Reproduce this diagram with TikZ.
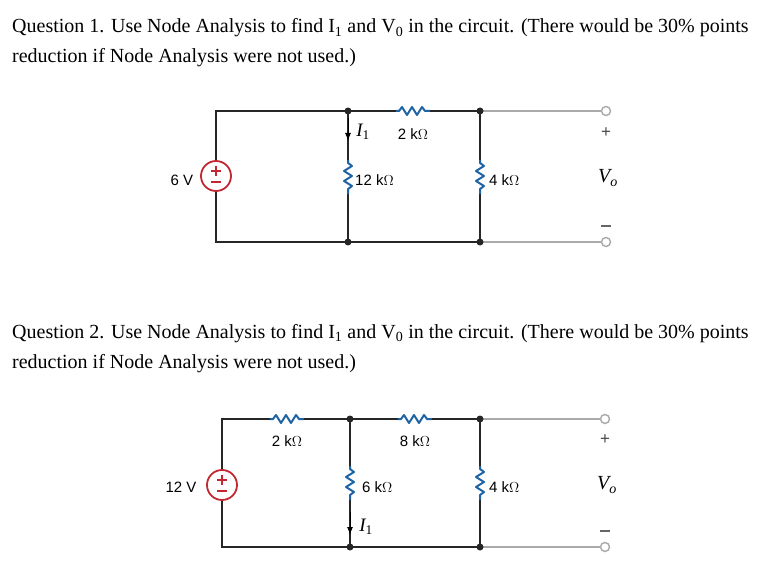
\documentclass[tikz,border=0pt]{standalone}
\usepackage{fontspec}
\setmainfont{Liberation Serif}
\newfontfamily\cirf{Liberation Sans}
\usetikzlibrary{arrows.meta,calc}
\definecolor{resb}{RGB}{30,100,165}
\definecolor{srcr}{RGB}{195,40,50}
\definecolor{gw}{RGB}{170,170,170}
\tikzset{x=1pt,y=-1pt,
 wire/.style={line width=2pt,black!85},
 gwire/.style={line width=1.8pt,gw},
 dot/.style={circle,fill=black!85,inner sep=0,minimum size=7pt},
 term/.style={circle,draw=gw,fill=white,line width=1.4pt,inner sep=0,minimum size=9pt},
 lab/.style={font=\cirf\fontsize{15}{15}\selectfont,inner sep=0},
 vo/.style={font=\fontsize{20}{20}\selectfont\itshape,inner sep=0},
 pm/.style={font=\cirf\fontsize{17}{17}\selectfont,black!70,inner sep=0},
 mline/.style={line width=1.2pt,black!60},
 src/.style={circle,draw=srcr,line width=1.8pt,fill=white,minimum size=30pt,inner sep=0},
 q/.style={anchor=base west,font=\fontsize{20}{20}\selectfont,inner sep=0},
 hres/.pic={\draw[resb,line width=2pt,line join=round] (-17,0)--(-14,0)--(-11,-4)--(-6,4)--(-1,-4)--(4,4)--(9,-4)--(12,0)--(17,0);},
 vres/.pic={\draw[resb,line width=2pt,line join=round] (0,-17)--(0,-14)--(4,-11)--(-4,-6)--(4,-1)--(-4,4)--(4,9)--(0,12)--(0,17);},
}
\newcommand{\srcsym}[1]{\node[src] (#1) {};
 \draw[srcr,line width=1.2pt] ($(#1)+(-5,-5)$)--($(#1)+(5,-5)$) ($(#1)+(0,-10)$)--($(#1)+(0,0)$) ($(#1)+(-5,6)$)--($(#1)+(5,6)$);}
\begin{document}
\begin{tikzpicture}
\useasboundingbox[fill=white] (0,0) rectangle (774,583);
\node[q] (q1a) at (12,33) {Question 1. Use Node Analysis to find I\textsubscript{1} and V\textsubscript{0} in the circuit. (There would be 30\% points};
\node[q] (q1b) at (12,63) {reduction if Node Analysis were not used.)};
\node[q] (q2a) at (12,338) {Question 2. Use Node Analysis to find I\textsubscript{1} and V\textsubscript{0} in the circuit. (There would be 30\% points};
\node[q] (q2b) at (12,368) {reduction if Node Analysis were not used.)};
% ===== circuit 1
\coordinate (a1) at (216,111); \coordinate (a2) at (216,242);
\coordinate (n1t) at (348,111); \coordinate (n1b) at (348,242);
\coordinate (n2t) at (480,111); \coordinate (n2b) at (480,242);
\coordinate (r2a) at (396,111); \coordinate (r2b) at (430,111);
\coordinate (r12a) at (348,160); \coordinate (r12b) at (348,194);
\coordinate (r4a) at (480,160); \coordinate (r4b) at (480,194);
\draw[gwire] (n2t)--(606,111) (n2b)--(606,242);
\draw[wire] (n1t)--(a1)--(a2)--(n1b)--(n2b);
\draw[wire] (n1t)--(r2a) (r2b)--(n2t);
\draw[wire] (n1t)--(r12a) (r12b)--(n1b);
\draw[wire] (n2t)--(r4a) (r4b)--(n2b);
\pic at (413,111) {hres}; \pic at (348,177) {vres}; \pic at (480,177) {vres};
\node[dot] (d5) at (n1t) {}; \node[dot] (d6) at (n1b) {}; \node[dot] (d7) at (n2t) {}; \node[dot] (d8) at (n2b) {};
\node[term] (t1) at (606,111) {}; \node[term] (t2) at (606,242) {};
\draw[-{Latex[length=8pt,width=6pt]},line width=1pt] (348,118)--(348,141);
\node[vo,font=\fontsize{19}{19}\selectfont\itshape] (i1) at (363,132) {I\textsubscript{\upshape 1}};
\begin{scope}[shift={(216,176)}]\srcsym{s1}\end{scope}
\node[lab] (l6v) at (182,180) {6 V};
\node[lab] (l2k) at (413,134) {2 k$\Omega$};
\node[lab,anchor=west] (l12k) at (355,180) {12 k$\Omega$};
\node[lab,anchor=west] (l4k) at (489,180) {4 k$\Omega$};
\node[pm] (p1) at (606,133) {+};
\node[vo] (v1) at (608,178) {V\textsubscript{o}};
\draw[mline] (601,226)--(611,226);
% ===== circuit 2
\coordinate (b1) at (222,419); \coordinate (b2) at (222,547);
\coordinate (ra) at (270,419); \coordinate (rb) at (304,419);
\coordinate (rc) at (398,419); \coordinate (rd) at (432,419);
\coordinate (re) at (350,466); \coordinate (rf) at (350,500);
\coordinate (rg) at (480,466); \coordinate (rh) at (480,500);
\coordinate (m1t) at (350,419); \coordinate (m1b) at (350,547);
\coordinate (m2t) at (480,419); \coordinate (m2b) at (480,547);
\draw[gwire] (m2t)--(605,419) (m2b)--(605,547);
\draw[wire] (ra)--(b1)--(b2)--(m1b)--(m2b);
\draw[wire] (rb)--(m1t)--(rc) (rd)--(m2t);
\draw[wire] (m1t)--(re) (rf)--(m1b);
\draw[wire] (m2t)--(rg) (rh)--(m2b);
\pic at (287,419) {hres}; \pic at (415,419) {hres};
\pic at (350,483) {vres}; \pic at (480,483) {vres};
\node[dot] (d1) at (m1t) {}; \node[dot] (d2) at (m1b) {}; \node[dot] (d3) at (m2t) {}; \node[dot] (d4) at (m2b) {};
\node[term] (t3) at (605,419) {}; \node[term] (t4) at (605,547) {};
\draw[-{Latex[length=8pt,width=6pt]},line width=1pt] (350,512)--(350,535);
\node[vo,font=\fontsize{19}{19}\selectfont\itshape] (i2) at (366,527) {I\textsubscript{\upshape 1}};
\begin{scope}[shift={(222,485)}]\srcsym{s2}\end{scope}
\node[lab] (l12v) at (181,487) {12 V};
\node[lab] (la) at (287,441) {2 k$\Omega$};
\node[lab] (lb) at (415,441) {8 k$\Omega$};
\node[lab,anchor=west] (lc) at (362,487) {6 k$\Omega$};
\node[lab,anchor=west] (ld) at (489,487) {4 k$\Omega$};
\node[pm] (p2) at (605,440) {+};
\node[vo] (v2) at (607,485) {V\textsubscript{o}};
\draw[mline] (600,531)--(610,531);
\end{tikzpicture}
\end{document}
